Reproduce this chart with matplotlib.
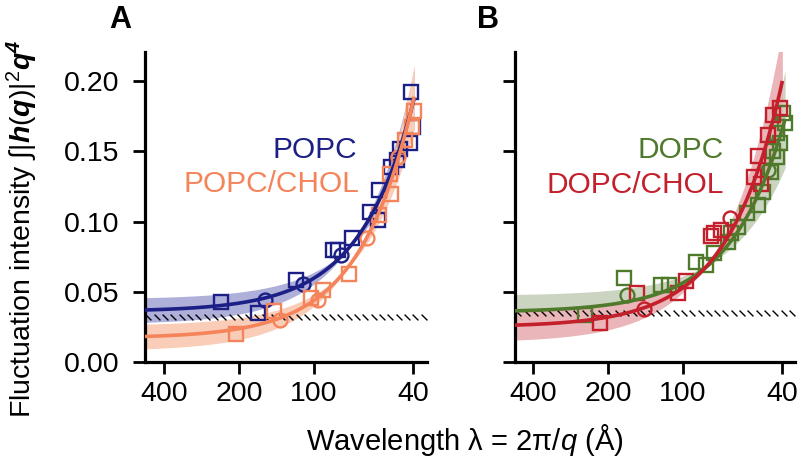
import numpy as np
import matplotlib
matplotlib.use('Agg')
import matplotlib.pyplot as plt
from matplotlib.path import Path

plt.rcParams['font.family'] = ['Liberation Sans', 'DejaVu Sans']
plt.rcParams['mathtext.fontset'] = 'custom'
plt.rcParams['mathtext.rm'] = 'Liberation Sans'
plt.rcParams['mathtext.it'] = 'Liberation Sans:italic'
plt.rcParams['mathtext.bf'] = 'Liberation Sans:bold'
try:
    plt.rcParams['mathtext.bfit'] = 'Liberation Sans:bold:italic'
    HAS_BFIT = True
except KeyError:
    HAS_BFIT = False

# ---------------- data ----------------
xticks = [400, 200, 100, 40]
yticks = [0.00, 0.05, 0.10, 0.15, 0.20]

# POPC (navy)
popc_sq_lam = [236, 168, 118, 84, 80, 70, 59.7, 55.3, 54.6, 49, 46.5, 45.1, 41, 40, 40.6]
popc_sq_val = [0.043, 0.0347, 0.0584, 0.0798, 0.080, 0.088, 0.107, 0.101, 0.1225, 0.139, 0.144, 0.152, 0.156, 0.1676, 0.1925]
popc_ci_lam = [157, 111, 78]
popc_ci_val = [0.0442, 0.0553, 0.076]

# POPC/CHOL (coral)
popcc_sq_lam = [206, 144, 102.5, 92, 72, 54.7, 49, 49.5, 43.2, 39.6, 40.5]
popcc_sq_val = [0.020, 0.0363, 0.0454, 0.051, 0.063, 0.105, 0.120, 0.134, 0.158, 0.179, 0.1676]
popcc_ci_lam = [137, 96, 61, 46]
popcc_ci_val = [0.030, 0.044, 0.088, 0.146]

# DOPC (green)
dopc_sq_lam = [247, 173, 123, 114, 89, 81, 75, 66, 64, 60, 55.7, 50, 48, 44.6, 43.5, 42.2, 41, 39.2, 39.6, 42.2]
dopc_sq_val = [0.0335, 0.0596, 0.0548, 0.055, 0.0714, 0.069, 0.0774, 0.0857, 0.0917, 0.096, 0.106, 0.112, 0.121, 0.1355, 0.150, 0.146, 0.156, 0.170, 0.177, 0.163]
dopc_ci_lam = [168, 45.6]
dopc_ci_val = [0.0477, 0.137]

# DOPC/CHOL (red)
dopcc_sq_lam = [216, 153, 105, 97.5, 77, 75, 70.6, 52, 50, 48.8, 45.6, 43.5, 41]
dopcc_sq_val = [0.028, 0.0489, 0.0489, 0.058, 0.090, 0.0917, 0.094, 0.132, 0.147, 0.127, 0.162, 0.176, 0.181]
dopcc_ci_lam = [144, 65]
dopcc_ci_val = [0.038, 0.1026]

# fit parameters: value = A + B*q^2, q = 2*pi/lambda ; band: dA, dB (anticorrelated)
popc_fit = [0.036, 6.0, 0.009, 1.2]
popcc_fit = [0.017, 6.8, 0.009, 1.25]
dopc_fit = [0.0355, 5.3, 0.012, 1.8]
dopcc_fit = [0.025, 7.1, 0.011, 1.96]

# reference (hatched) levels
level_A = 0.032
level_B = 0.035

# ---------------- style ----------------
NAVY = '#1b1f86'
CORAL = '#f5845a'
GREEN = '#4f7a2c'
RED = '#c4202c'

fig = plt.figure(figsize=(8.0, 4.65), dpi=100)
axA = fig.add_axes([145/800, 1-362/465, 282/800, 310/465])
axB = fig.add_axes([515/800, 1-362/465, 280/800, 310/465])

hatch_marker = Path([(-1, 1), (1, -1)], [Path.MOVETO, Path.LINETO])


def draw_series(ax, sq_l, sq_v, ci_l, ci_v, fit, color, band_color, lam_end):
    A, B, dA, dB = fit
    lam = np.geomspace(480, lam_end, 300)
    q2 = (2*np.pi/lam)**2
    y = A + B*q2
    up = (A + dA) + (B - dB)*q2
    lo = (A - dA) + (B + dB)*q2
    ax.fill_between(lam, np.minimum(up, lo), np.maximum(up, lo), color=band_color,
                    lw=0, zorder=1)
    ax.plot(sq_l, sq_v, ls='none', marker='s', ms=10.5, mfc='none', mec=color, mew=1.7, zorder=3)
    ax.plot(ci_l, ci_v, ls='none', marker='o', ms=10, mfc='none', mec=color, mew=1.7, zorder=3)
    ax.plot(lam, y, color=color, lw=2.6, zorder=4, solid_capstyle='butt')


def style_axis(ax, xlim, show_ylabels):
    ax.set_xscale('log')
    ax.set_xlim(*xlim)
    ax.set_ylim(0, 0.2208)
    ax.set_xticks(xticks)
    ax.set_xticklabels([str(t) for t in xticks])
    ax.xaxis.set_minor_locator(matplotlib.ticker.NullLocator())
    ax.set_yticks(yticks)
    if show_ylabels:
        ax.set_yticklabels(['%.2f' % t for t in yticks])
    else:
        ax.set_yticklabels([])
    for s in ['top', 'right']:
        ax.spines[s].set_visible(False)
    for s in ['left', 'bottom']:
        ax.spines[s].set_linewidth(2.3)
        ax.spines[s].set_color('black')
    ax.tick_params(axis='both', which='major', length=8.5, width=2.0, labelsize=20.5, color='black')
    ax.tick_params(axis='x', pad=5)
    ax.tick_params(axis='y', pad=10)


def hatch_line(ax, level, xlim):
    xs = np.geomspace(xlim[0]*0.97, xlim[1]*1.03, 34)
    ax.plot(xs, [level]*len(xs), ls='none', marker=hatch_marker, ms=4.2, mew=1.0,
            color='black', zorder=2)

# Panel A
xlimA = (477, 35.1)
style_axis(axA, xlimA, True)
hatch_line(axA, level_A, xlimA)
draw_series(axA, popc_sq_lam, popc_sq_val, popc_ci_lam, popc_ci_val, popc_fit, NAVY, '#aeb0da', 39.5)
draw_series(axA, popcc_sq_lam, popcc_sq_val, popcc_ci_lam, popcc_ci_val, popcc_fit, CORAL, '#f9cdb8', 39.5)
axA.text(67.3, 0.151, 'POPC', color=NAVY, fontsize=21.5, ha='right', va='center')
axA.text(65.5, 0.127, 'POPC/CHOL', color=CORAL, fontsize=21.5, ha='right', va='center')

# Panel B
xlimB = (472, 35.6)
style_axis(axB, xlimB, False)
hatch_line(axB, level_B, xlimB)
draw_series(axB, dopc_sq_lam, dopc_sq_val, dopc_ci_lam, dopc_ci_val, dopc_fit, GREEN, '#cbd4c0', 39.0)
draw_series(axB, dopcc_sq_lam, dopcc_sq_val, dopcc_ci_lam, dopcc_ci_val, dopcc_fit, RED, '#ebb6b9', 40.0)
axB.text(68.5, 0.151, 'DOPC', color=GREEN, fontsize=21.5, ha='right', va='center')
axB.text(68.5, 0.126, 'DOPC/CHOL', color=RED, fontsize=21.5, ha='right', va='center')

# Panel letters
fig.text(120/800, 1-20/465, 'A', fontsize=22, fontweight='bold', ha='center', va='center')
fig.text(488/800, 1-20/465, 'B', fontsize=22, fontweight='bold', ha='center', va='center')

if HAS_BFIT:
    ylab = r'Fluctuation intensity ∫|$\mathbfit{h}$($\mathbfit{q}$)|$^{2}$$\mathbfit{q}^{\mathbfit{4}}$'
else:
    ylab = r'Fluctuation intensity ∫|$\mathbf{h}$($\mathbf{q}$)|$^{2}$$\mathbf{q}^{4}$'
fig.text(22/800, 1-229/465, ylab, fontsize=20.5, rotation=90, ha='center', va='center')
fig.text(465/800, 1-440/465, r'Wavelength λ = 2π/$q$ (Å)', fontsize=21, ha='center', va='center')

fig.savefig('out.png', dpi=100)
